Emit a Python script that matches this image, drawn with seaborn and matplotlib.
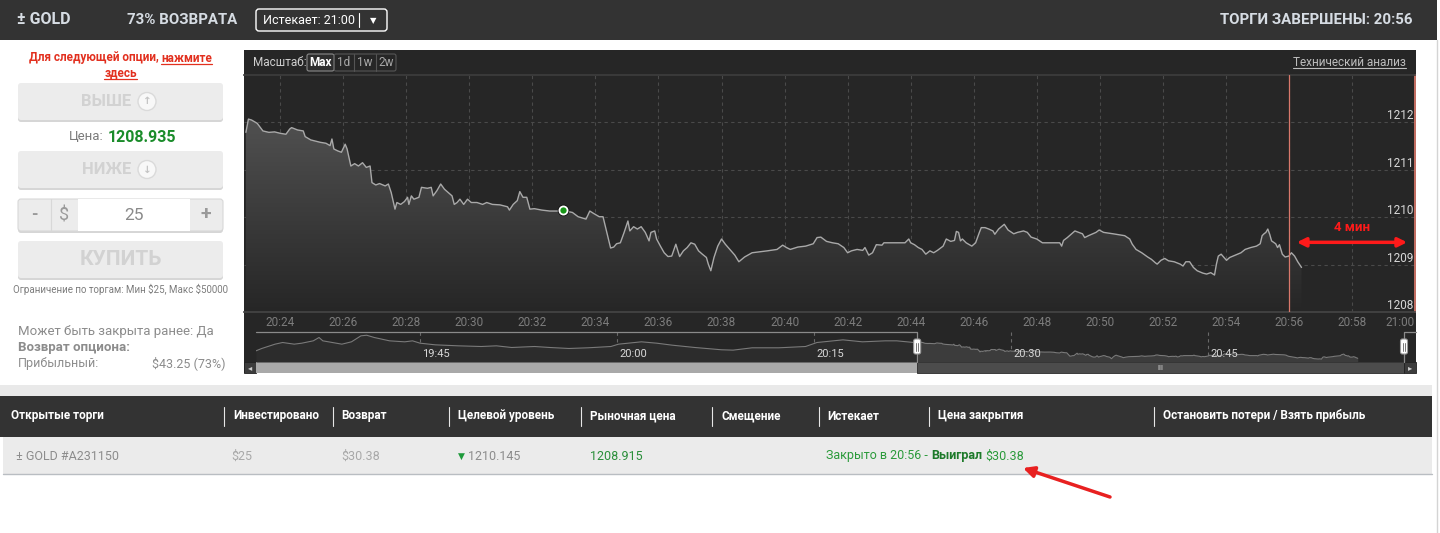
import numpy as np
import pandas as pd
import matplotlib
matplotlib.use("Agg")
import matplotlib.pyplot as plt
import matplotlib.dates as mdates
import matplotlib.transforms as mtransforms
from matplotlib.colors import LinearSegmentedColormap
from matplotlib.patches import Rectangle, FancyBboxPatch, Circle
import seaborn as sns

# ---------------- data ----------------
day = "2015-03-02"

# GOLD quotes in the main window, minutes after 20:00
main_minutes = [
    22.91, 22.99, 23.09, 23.27, 23.45, 23.64, 23.82, 24.00, 24.18, 24.30,
    24.36, 24.55, 24.73, 24.79, 24.97, 25.15, 25.27, 25.45, 25.58, 25.64,
    25.70, 25.82, 25.94, 26.06, 26.12, 26.24, 26.36, 26.48, 26.61, 26.73,
    26.85, 26.91, 27.03, 27.15, 27.33, 27.43, 27.52, 27.64, 27.70, 27.82,
    27.94, 28.04, 28.08, 28.16, 28.24, 28.40, 28.48, 28.67, 28.79, 28.85,
    28.97, 29.09, 29.21, 29.33, 29.45, 29.52, 29.61, 29.70, 29.82, 29.94,
    30.06, 30.24, 30.42, 30.55, 30.73, 30.97, 31.21, 31.27, 31.39, 31.52,
    31.60, 31.70, 31.82, 31.92, 32.06, 32.30, 32.55, 32.79, 32.98, 33.27,
    33.45, 33.70, 33.82, 33.94, 34.12, 34.24, 34.36, 34.48, 34.58, 34.67,
    34.79, 34.91, 35.03, 35.09, 35.21, 35.33, 35.45, 35.58, 35.70, 35.76,
    35.88, 35.94, 36.06, 36.18, 36.30, 36.42, 36.55, 36.67, 36.79, 36.91,
    37.03, 37.15, 37.27, 37.39, 37.52, 37.58, 37.66, 37.76, 37.88, 38.00,
    38.12, 38.30, 38.42, 38.55, 38.73, 38.97, 39.21, 39.45, 39.76, 39.94,
    40.06, 40.18, 40.42, 40.67, 40.91, 41.03, 41.15, 41.33, 41.52, 41.70,
    41.88, 42.00, 42.12, 42.30, 42.48, 42.55, 42.67, 42.79, 42.91, 43.09,
    43.15, 43.33, 43.58, 43.82, 43.94, 44.00, 44.12, 44.24, 44.36, 44.48,
    44.61, 44.73, 44.85, 45.03, 45.13, 45.27, 45.39, 45.45, 45.52, 45.58,
    45.64, 45.76, 45.94, 46.06, 46.18, 46.24, 46.36, 46.48, 46.61, 46.67,
    46.79, 46.97, 47.09, 47.27, 47.39, 47.58, 47.70, 47.82, 48.00, 48.18,
    48.55, 48.73, 48.79, 48.85, 48.97, 49.09, 49.21, 49.33, 49.45, 49.52,
    49.64, 49.88, 49.98, 50.12, 50.42, 50.79, 50.95, 51.03, 51.15, 51.33,
    51.52, 51.64, 51.76, 51.82, 51.94, 52.06, 52.18, 52.36, 52.55, 52.64,
    52.73, 52.85, 52.97, 53.09, 53.27, 53.39, 53.52, 53.64, 53.70, 53.76,
    53.85, 53.94, 54.02, 54.12, 54.30, 54.48, 54.61, 54.79, 54.97, 55.09,
    55.15, 55.21, 55.27, 55.33, 55.39, 55.45, 55.58, 55.64, 55.70, 55.79,
    55.88, 56.00, 56.08, 56.18, 56.28, 56.40,
]
main_prices = [
    1211.79, 1212.07, 1212.05, 1211.98, 1211.82, 1211.79, 1211.80, 1211.77, 1211.75, 1211.86,
    1211.89, 1211.84, 1211.82, 1211.70, 1211.63, 1211.60, 1211.58, 1211.56, 1211.51, 1211.65,
    1211.44, 1211.40, 1211.37, 1211.54, 1211.44, 1211.08, 1211.13, 1211.08, 1211.15, 1211.05,
    1211.08, 1210.73, 1210.68, 1210.71, 1210.66, 1210.70, 1210.52, 1210.17, 1210.31, 1210.27,
    1210.33, 1210.42, 1210.27, 1210.45, 1210.38, 1210.42, 1210.63, 1210.61, 1210.63, 1210.45,
    1210.56, 1210.70, 1210.59, 1210.52, 1210.45, 1210.27, 1210.31, 1210.38, 1210.27, 1210.38,
    1210.31, 1210.31, 1210.27, 1210.31, 1210.27, 1210.26, 1210.22, 1210.15, 1210.27, 1210.35,
    1210.54, 1210.42, 1210.42, 1210.17, 1210.18, 1210.15, 1210.13, 1210.13, 1210.14, 1210.10,
    1210.01, 1209.96, 1210.13, 1210.08, 1210.01, 1210.01, 1209.68, 1209.35, 1209.37, 1209.44,
    1209.46, 1209.68, 1209.92, 1209.71, 1209.80, 1209.75, 1209.80, 1209.68, 1209.50, 1209.68,
    1209.71, 1209.54, 1209.39, 1209.25, 1209.17, 1209.18, 1209.43, 1209.17, 1209.29, 1209.36,
    1209.46, 1209.43, 1209.29, 1209.22, 1209.15, 1209.01, 1208.87, 1209.15, 1209.39, 1209.54,
    1209.43, 1209.29, 1209.20, 1209.06, 1209.16, 1209.25, 1209.27, 1209.29, 1209.32, 1209.41,
    1209.36, 1209.32, 1209.37, 1209.39, 1209.44, 1209.57, 1209.58, 1209.49, 1209.46, 1209.44,
    1209.36, 1209.25, 1209.29, 1209.32, 1209.30, 1209.36, 1209.20, 1209.25, 1209.42, 1209.41,
    1209.46, 1209.46, 1209.46, 1209.46, 1209.54, 1209.46, 1209.42, 1209.36, 1209.32, 1209.22,
    1209.29, 1209.25, 1209.30, 1209.39, 1209.54, 1209.49, 1209.51, 1209.70, 1209.68, 1209.50,
    1209.54, 1209.46, 1209.39, 1209.46, 1209.68, 1209.78, 1209.78, 1209.75, 1209.71, 1209.64,
    1209.75, 1209.85, 1209.73, 1209.65, 1209.68, 1209.71, 1209.68, 1209.58, 1209.54, 1209.46,
    1209.46, 1209.46, 1209.39, 1209.51, 1209.57, 1209.64, 1209.71, 1209.68, 1209.65, 1209.57,
    1209.61, 1209.68, 1209.73, 1209.68, 1209.65, 1209.61, 1209.54, 1209.43, 1209.32, 1209.25,
    1209.16, 1209.11, 1209.04, 1209.01, 1209.09, 1209.13, 1209.08, 1209.06, 1209.01, 1208.97,
    1209.06, 1209.06, 1208.94, 1208.87, 1208.82, 1208.80, 1208.83, 1208.78, 1209.01, 1209.18,
    1209.22, 1209.15, 1209.09, 1209.15, 1209.20, 1209.25, 1209.32, 1209.36, 1209.39, 1209.44,
    1209.61, 1209.65, 1209.68, 1209.75, 1209.64, 1209.50, 1209.44, 1209.36, 1209.42, 1209.22,
    1209.16, 1209.18, 1209.25, 1209.18, 1209.06, 1208.94,
]

# earlier part of the session, only seen in the navigator, minutes after 19:00
history_minutes = [
    32.50, 32.94, 33.95, 34.53, 35.41, 35.99, 36.86, 37.30, 37.59, 38.31,
    39.04, 39.77, 40.49, 40.93, 41.51, 42.67, 43.83, 44.42, 44.99, 46.16,
    47.90, 49.65, 50.81, 51.97, 53.71, 54.88, 56.33, 57.78, 59.53, 60.11,
    61.85, 63.01, 64.18, 65.92, 67.95, 68.83, 70.28, 72.31, 74.35, 75.22,
    77.20, 78.68, 80.42, 81.29, 82.60,
]
history_prices = [
    1210.38, 1210.83, 1211.66, 1211.98, 1211.66, 1211.85, 1212.30, 1212.94, 1212.30, 1211.98,
    1211.66, 1212.11, 1213.26, 1213.38, 1212.94, 1212.30, 1212.11, 1212.30, 1211.85, 1211.53,
    1211.34, 1211.21, 1211.34, 1211.02, 1211.21, 1211.02, 1210.83, 1210.96, 1211.21, 1211.66,
    1212.11, 1211.85, 1211.47, 1211.02, 1210.58, 1210.51, 1210.96, 1210.96, 1211.21, 1211.98,
    1212.49, 1212.11, 1212.30, 1212.30, 1211.98,
]

session_start = "19:32:30"
view_start = "20:22:51"
entry_time = "20:32:59"
entry_price = 1210.145
close_time = "20:56"
expiry_time = "21:00"
current_price = "1208.935"
market_price = "1208.915"
payout = "$30.38"
invested = "$25"

x_tick_labels = ["20:24", "20:26", "20:28", "20:30", "20:32", "20:34", "20:36", "20:38",
                 "20:40", "20:42", "20:44", "20:46", "20:48", "20:50", "20:52", "20:54",
                 "20:56", "20:58", "21:00"]
y_ticks = [1208, 1209, 1210, 1211, 1212]
nav_labels = ["19:45", "20:00", "20:15", "20:30", "20:45"]

table_columns = ["Открытые торги", "Инвестировано", "Возврат", "Целевой уровень",
                 "Рыночная цена", "Смещение", "Истекает", "Цена закрытия",
                 "Остановить потери / Взять прибыль"]
column_x = [11, 233, 341, 458, 590, 722, 827, 938, 1163]
separator_x = [224, 333, 449, 581, 712, 819, 929, 1154]

# ---------------- frames ----------------
def at(hhmm):
    return pd.Timestamp(f"{day} {hhmm}")

base = at("19:00")
hist_df = pd.DataFrame({"time": base + pd.to_timedelta(history_minutes, unit="min"),
                        "price": history_prices})
main_df = pd.DataFrame({"time": base + pd.Timedelta(hours=1) + pd.to_timedelta(main_minutes, unit="min"),
                        "price": main_prices})
nav_df = pd.concat([hist_df, main_df], ignore_index=True)

sns.set_theme(style="white")
plt.rcParams["font.family"] = ["Roboto", "DejaVu Sans"]

W, H = 1440, 533
fig = plt.figure(figsize=(W / 100, H / 100), dpi=100)
renderer = fig.canvas.get_renderer()


def box(x0, y0, x1, y1):
    return [x0 / W, 1 - y1 / H, (x1 - x0) / W, (y1 - y0) / H]


def pixel_axes():
    a = fig.add_axes([0, 0, 1, 1])
    a.set_xlim(0, W)
    a.set_ylim(H, 0)
    a.set_autoscale_on(False)
    a.axis("off")
    return a


bg = pixel_axes()


def rect(a, x0, y0, x1, y1, fc, ec="none", lw=0, r=0, z=1):
    if r:
        p = FancyBboxPatch((x0, y0), x1 - x0, y1 - y0, boxstyle=f"round,pad=0,rounding_size={r}",
                           fc=fc, ec=ec, lw=lw, zorder=z)
    else:
        p = Rectangle((x0, y0), x1 - x0, y1 - y0, fc=fc, ec=ec, lw=lw, zorder=z)
    a.add_patch(p)


def width_of(s, **kw):
    t = bg.text(0, 0, s, **kw)
    w = t.get_window_extent(renderer).width
    t.remove()
    return w


def underline(t, color, lw=0.9):
    bb = t.get_window_extent(renderer)
    yy = H - bb.y0 - 0.5
    bg.plot([bb.x0, bb.x1], [yy, yy], color=color, lw=lw)


def run(x, y, pieces, ha="left", gap=True, **common):
    sp = width_of("a a", **common) - width_of("aa", **common) if gap else 0
    widths = [width_of(s, **common, **kw) for s, kw in pieces]
    if ha == "center":
        x -= (sum(widths) + sp * (len(pieces) - 1)) / 2
    out = []
    for (s, kw), w in zip(pieces, widths):
        out.append(bg.text(x, y, s, va="center", **common, **kw))
        x += w + sp
    return out


# ---------------- header bar ----------------
hdr = "#d6dce3"
rect(bg, 0, 0, 1437, 40, "#333333")
bg.text(17, 20, "± GOLD", color=hdr, fontsize=11.5, fontweight="bold", va="center")
bg.text(127, 20, "73% ВОЗВРАТА", color=hdr, fontsize=10.8, fontweight="bold", va="center")
rect(bg, 256, 9, 387, 31, "#333333", ec="white", lw=1, r=3, z=2)
bg.text(263, 20, f"Истекает: {expiry_time}", color="white", fontsize=9, va="center", zorder=3)
bg.plot([359, 359], [13, 27], color="white", lw=0.8, zorder=3)
bg.text(373, 20.5, "▼", color="white", fontsize=6, ha="center", va="center", zorder=3)
bg.text(1412, 20, f"ТОРГИ ЗАВЕРШЕНЫ: {close_time}", color=hdr, fontsize=10.8,
        fontweight="bold", ha="right", va="center")
bg.plot([1437, 1437], [40, H], color="#d4d4d4", lw=1)

# ---------------- left trading panel ----------------
red = "#e2301f"
t1, t2 = run(120.5, 58, [("Для следующей опции,", {}), ("нажмите", {})], ha="center",
             color=red, fontsize=8.5, fontweight="bold")
underline(t2, red)
t3 = bg.text(120.5, 73, "здесь", color=red, fontsize=8.5, fontweight="bold", ha="center", va="center")
underline(t3, red)


def button(y0, y1, label, size, icon=None, cx=106.5):
    rect(bg, 18, y0 + 2, 223, y1 + 2, "#d6d6d6", r=3)
    rect(bg, 18, y0, 223, y1, "#ececec", r=3)
    cy = (y0 + y1) / 2
    bg.text(cx, cy, label, color="#d2d2d2", fontsize=size, fontweight="bold", ha="center", va="center")
    if icon:
        bg.add_patch(Circle((147, cy), 9, fc="#f8f8f8", ec="#dadada", lw=1))
        bg.text(147, cy, icon, color="#c4c4c4", fontsize=7.5, fontweight="bold",
                ha="center", va="center", family=["DejaVu Sans"])


button(83, 120, "ВЫШЕ", 12, "↑")
run(69, 137, [("Цена:", {"color": "#7a7a7a", "fontsize": 9.5}),
              (current_price, {"color": "#1a8c2a", "fontsize": 11.5, "fontweight": "bold"})])
button(151, 188, "НИЖЕ", 12, "↓")

rect(bg, 18, 201, 223, 233, "#d6d6d6", r=3)
rect(bg, 18, 199, 223, 231, "#ececec", ec="#d8d8d8", lw=0.8, r=3)
rect(bg, 78, 199, 190, 231, "white")
bg.plot([51, 51], [199, 231], color="#d8d8d8", lw=0.8)
bg.text(34, 214.5, "-", color="#9a9a9a", fontsize=12, fontweight="bold", ha="center", va="center")
bg.text(64.5, 215, r"\$", color="#9a9a9a", fontsize=13, ha="center", va="center")
bg.text(134, 215, invested.strip("$"), color="#8a8a8a", fontsize=12.5, ha="center", va="center")
bg.text(206, 214.5, "+", color="#9a9a9a", fontsize=14, fontweight="bold", ha="center", va="center")

button(241, 278, "КУПИТЬ", 15, cx=120.5)
bg.text(120.5, 289.5, r"Ограничение по торгам: Мин \$25, Макс \$50000", color="#7c7c7c",
        fontsize=7, ha="center", va="center")

grey = "#8c8c8c"
bg.text(18, 331, "Может быть закрыта ранее: Да", color=grey, fontsize=9.5, va="center")
bg.text(18, 347, "Возврат опциона:", color=grey, fontsize=9.5, fontweight="bold", va="center")
bg.text(18, 363, "Прибыльный:", color=grey, fontsize=9, va="center")
bg.text(225, 363, r"\$43.25 (73%)", color=grey, fontsize=9, ha="right", va="center")

# ---------------- chart panel ----------------
panel = "#262626"
rect(bg, 244, 50, 1416, 373, panel)
bg.text(253, 62.5, "Масштаб:", color="#cfcfcf", fontsize=8.5, va="center")
rect(bg, 307, 54, 334, 71, "#2e2e2e", ec="#8a8a8a", lw=0.8, r=2, z=2)
rect(bg, 334, 54, 396, 71, "none", ec="#555555", lw=0.8, r=2, z=2)
for x in [354, 376]:
    bg.plot([x, x], [54, 71], color="#555555", lw=0.8, zorder=3)
bg.text(320.5, 62.5, "Max", color="white", fontsize=8.5, fontweight="bold", ha="center", va="center", zorder=3)
for x, s in zip([344, 365, 386], ["1d", "1w", "2w"]):
    bg.text(x, 62.5, s, color="#a8a8a8", fontsize=8.5, ha="center", va="center", zorder=3)
ta = bg.text(1406, 62, "Технический анализ", color="#bdbdbd", fontsize=8.5, ha="right", va="center")
underline(ta, "#bdbdbd", lw=0.8)

# main price window
ax = fig.add_axes(box(244, 75, 1415, 312))
ax.set_facecolor(panel)
sns.lineplot(data=main_df, x="time", y="price", ax=ax, color="#a9a9a9", linewidth=1,
             estimator=None, sort=False, zorder=4)
x0, x1 = at(view_start), at(expiry_time)
ylo, yhi = y_ticks[0], y_ticks[-1] + 1
fill = ax.fill_between(main_df["time"], main_df["price"], ylo, color="none", lw=0)
fade = LinearSegmentedColormap.from_list("fade", [panel, "#5a5a5a"])
img = ax.imshow(np.linspace(0, 1, 256).reshape(-1, 1), cmap=fade, origin="lower", aspect="auto",
                extent=[mdates.date2num(x0), mdates.date2num(x1), ylo, yhi], zorder=2)
img.set_clip_path(fill.get_paths()[0], transform=ax.transData)
ax.set_xlim(x0, x1)
ax.set_ylim(ylo, yhi)
ax.set(xlabel="", ylabel="")

xt = [at(s) for s in x_tick_labels]
ax.set_xticks(xt, labels=x_tick_labels)
ax.yaxis.tick_right()
ax.set_yticks(y_ticks, labels=[str(v) for v in y_ticks])
ax.tick_params(axis="x", length=0, pad=3, labelsize=8.5, labelcolor="#7c7c7c")
ax.tick_params(axis="y", length=0, pad=-1, labelsize=8.5, labelcolor="#d8d8d8")
for lab in ax.get_yticklabels():
    lab.set_ha("right")
    lab.set_va("bottom")
ax.get_xticklabels()[-1].set_ha("right")
ax.grid(True, color="#4a4a4a", linestyle=(0, (3, 3)), linewidth=0.8, zorder=1)
ax.set_axisbelow(True)
ax.spines["left"].set_visible(False)
ax.spines["top"].set_color("#3c3c3c")
ax.spines["bottom"].set_color("#444444")
ax.spines["right"].set_color("#d9786b")

ax.axvline(at(close_time), color="#d9786b", lw=0.9, zorder=5)
ax.scatter([at(entry_time)], [entry_price], s=70, color="#111111", zorder=6, linewidths=0)
ax.scatter([at(entry_time)], [entry_price], s=34, color="#179617", edgecolor="white",
           linewidths=1.3, zorder=7)

arrow_y = 1209.47
ax.annotate("", xy=(x1 - pd.Timedelta(seconds=15), arrow_y),
            xytext=(at(close_time) + pd.Timedelta(seconds=15), arrow_y),
            arrowprops=dict(arrowstyle="<|-|>", color="#ff1a1a", lw=2.5, mutation_scale=13,
                            shrinkA=0, shrinkB=0), zorder=8)
minutes_left = int((x1 - at(close_time)).total_seconds() // 60)
ax.text(at(close_time) + (x1 - at(close_time)) / 2, arrow_y + 0.32, f"{minutes_left} мин",
        color="#ff1a1a", fontsize=9.5, fontweight="bold", ha="center", va="center", zorder=8)

# navigator
ax2 = fig.add_axes(box(256, 332, 1405, 362))
ax2.set_facecolor(panel)
nlo, nhi = 1208.23, 1214.0
sns.lineplot(data=nav_df, x="time", y="price", ax=ax2, color="#7a7a7a", linewidth=0.8,
             estimator=None, sort=False, zorder=4)
ax2.fill_between(nav_df["time"], nav_df["price"], nlo, color="#2c2c2c", lw=0, zorder=2)
sel = nav_df[nav_df["time"] >= x0]
ax2.fill_between(sel["time"], sel["price"], nlo, color="#3c3c3c", lw=0, zorder=3)
ax2.set_xlim(at(session_start), x1)
ax2.set_ylim(nlo, nhi)
ax2.set(xlabel="", ylabel="", xticks=[], yticks=[])
for s in ax2.spines.values():
    s.set_visible(False)
lab_tf = mtransforms.offset_copy(ax2.get_xaxis_transform(), fig=fig, x=2, y=0, units="dots")
for s in nav_labels:
    ax2.axvline(at(s), color="#6a6a6a", lw=0.8, linestyle=(0, (3, 3)), zorder=1)
    ax2.text(at(s), 0.28, s, transform=lab_tf, color="#d8d8d8", fontsize=8, va="center", zorder=5)

sel_x = ax2.transData.transform((mdates.date2num(x0), 0))[0]
end_x = ax2.transData.transform((mdates.date2num(x1), 0))[0] - 1

# scrollbar
rect(bg, 244, 362, 256, 373, "#3c3c3c", ec="#222222", lw=0.6)
bg.text(250, 367.5, "◂", color="#cccccc", fontsize=6, ha="center", va="center", family=["DejaVu Sans"])
rect(bg, 256, 362, end_x, 373, "#a9a9a9")
rect(bg, sel_x, 362, end_x, 373, "#4c4c4c", ec="#2a2a2a", lw=0.6)
bg.text((sel_x + end_x) / 2, 367.5, "III", color="#dddddd", fontsize=5.5, ha="center", va="center")
rect(bg, end_x, 362, 1416, 373, "#3c3c3c", ec="#222222", lw=0.6)
bg.text(1410, 367.5, "▸", color="#cccccc", fontsize=6, ha="center", va="center", family=["DejaVu Sans"])

# overlay: navigator outline and handles
fg = pixel_axes()
fg.plot([256, sel_x, sel_x], [332, 332, 362], color="#8a8a8a", lw=0.9)
fg.plot([end_x, end_x, 1416], [362, 332, 332], color="#8a8a8a", lw=0.9)
for hx in [sel_x, end_x]:
    rect(fg, hx - 3.5, 339, hx + 3.5, 354, "white", ec="#9a9a9a", lw=0.8, r=2, z=3)
    for dx in [-1, 1]:
        fg.plot([hx + dx, hx + dx], [342.5, 350.5], color="#777777", lw=0.7, zorder=4)

# ---------------- trades table ----------------
rect(bg, 0, 385, 1432, 396, "#e9e9e9")
rect(bg, 0, 396, 1432, 437, "#333333")
for name, x in zip(table_columns, column_x):
    bg.text(x, 416, name, color="white", fontsize=8.5, fontweight="bold", va="center")
for x in separator_x:
    bg.plot([x, x], [407, 426], color="#e6e6e6", lw=0.8)
rect(bg, 3, 437, 1432, 474, "#ebebeb")
bg.plot([3, 1432], [474, 474], color="#b9bdc2", lw=1)

ry = 456
bg.text(16, ry, "± GOLD #A231150", color="#8c8c8c", fontsize=9, va="center")
bg.text(231, ry, invested, color="#a8a8a8", fontsize=9, va="center")
bg.text(341, ry, payout, color="#a8a8a8", fontsize=9, va="center")
bg.text(461, ry, "▼", color="#1d9a3a", fontsize=6.5, ha="center", va="center", family=["DejaVu Sans"])
bg.text(468, ry, f"{entry_price:.3f}", color="#8c8c8c", fontsize=9, va="center")
bg.text(590, ry, market_price, color="#2a8f3a", fontsize=9, va="center")
run(826, ry, [(f"Закрыто в {close_time} -", {"color": "#2a9a3a"}),
              ("Выиграл", {"color": "#1d7a2a", "fontweight": "bold"}),
              (payout, {"color": "#2a9a3a"})], fontsize=9)

fg.annotate("", xy=(1023, 468), xytext=(1110, 497),
            arrowprops=dict(arrowstyle="-|>", color="#e82020", lw=2.5, mutation_scale=16,
                            shrinkA=0, shrinkB=0))

fig.savefig("out.png", dpi=100)
